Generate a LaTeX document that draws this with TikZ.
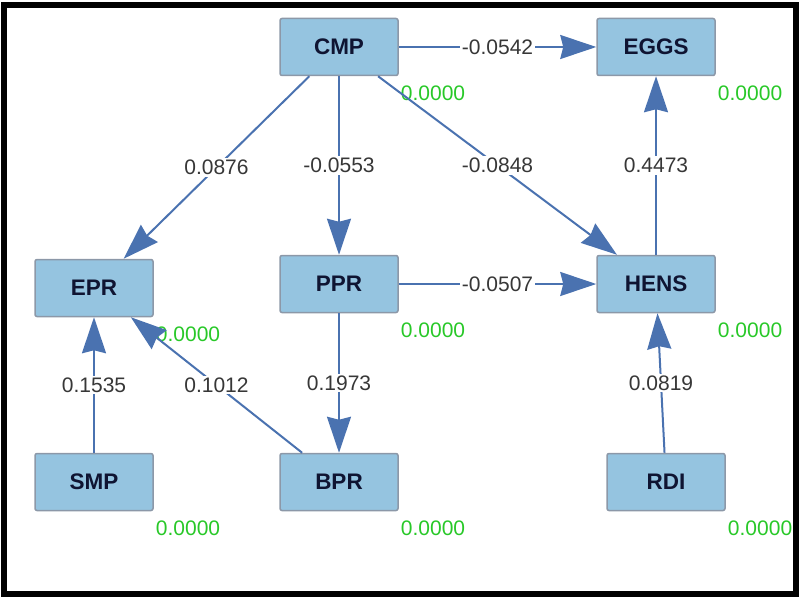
\documentclass[tikz,border=0pt]{standalone}
\usepackage{fontspec}
\setmainfont{Liberation Sans}
\usetikzlibrary{arrows,arrows.meta,positioning}
\definecolor{boxblue}{RGB}{149,196,224}
\definecolor{boxline}{RGB}{140,152,168}
\definecolor{pathblue}{RGB}{74,114,176}
\definecolor{rgreen}{RGB}{40,200,40}
\definecolor{coefgray}{RGB}{55,55,55}
\definecolor{txtnavy}{RGB}{15,20,50}

\begin{document}
\begin{tikzpicture}[x=1pt,y=-1pt,node distance=237pt]
  \tikzstyle{var}=[draw=boxline,line width=1.5pt,fill=boxblue,rounded corners=2pt,minimum width=118pt,minimum height=57pt,text=txtnavy,font=\fontsize{22.5}{26}\selectfont\bfseries]
  \tikzstyle{coef}=[fill=white,text=coefgray,inner sep=2pt,font=\fontsize{21}{25}\selectfont]
  \tikzstyle{rsq}=[text=rgreen,inner sep=1pt,font=\fontsize{21}{25}\selectfont]
  \tikzstyle{link}=[color=pathblue,line width=2pt,-{Stealth[length=36pt,width=24pt,inset=3pt]}]

  \useasboundingbox (0,0) rectangle (799,596);
  \draw[line width=6pt] (4,5.5) rectangle (796,594);

  \node[var] (cmp) at (339,47) {CMP};
  \node[var] (ppr) [below of=cmp] {PPR};
  \node[var] (hens) [right of=ppr, node distance=317pt] {HENS};
  \node[var] (eggs) [above of=hens] {EGGS};
  \node[var] (epr) [left of=ppr, node distance=245pt, yshift=-4pt] {EPR};
  \node[var] (bpr) [below of=ppr, node distance=198pt] {BPR};
  \node[var] (smp) [below of=epr, node distance=194pt] {SMP};
  \node[var] (rdi) [below of=hens, node distance=198pt, xshift=10pt] {RDI};

  % R-squared values
  \node[rsq] (cmp-r) [below right=8pt and 1pt of cmp.south east] {0.0000};
  \node[rsq] (eggs-r) [below right=8pt and 1pt of eggs.south east] {0.0000};
  \node[rsq] (epr-r) [below right=8pt and 1pt of epr.south east] {0.0000};
  \node[rsq] (ppr-r) [below right=8pt and 1pt of ppr.south east] {0.0000};
  \node[rsq] (hens-r) [below right=8pt and 1pt of hens.south east] {0.0000};
  \node[rsq] (smp-r) [below right=8pt and 1pt of smp.south east] {0.0000};
  \node[rsq] (bpr-r) [below right=8pt and 1pt of bpr.south east] {0.0000};
  \node[rsq] (rdi-r) [below right=8pt and 1pt of rdi.south east] {0.0000};

\path
(cmp) edge[link] node[coef] {-0.0542} (eggs)
(cmp) edge[link] node[coef] {0.0876} (epr)
(cmp) edge[link] node[coef] {-0.0553} (ppr)
(cmp) edge[link] node[coef] {-0.0848} (hens)
(hens) edge[link] node[coef] {0.4473} (eggs)
(ppr) edge[link] node[coef] {-0.0507} (hens)
(ppr) edge[link] node[coef] {0.1973} (bpr)
(smp) edge[link] node[coef] {0.1535} (epr)
(bpr) edge[link] node[coef] {0.1012} (epr)
(rdi) edge[link] node[coef] {0.0819} (hens);
\end{tikzpicture}
\end{document}
